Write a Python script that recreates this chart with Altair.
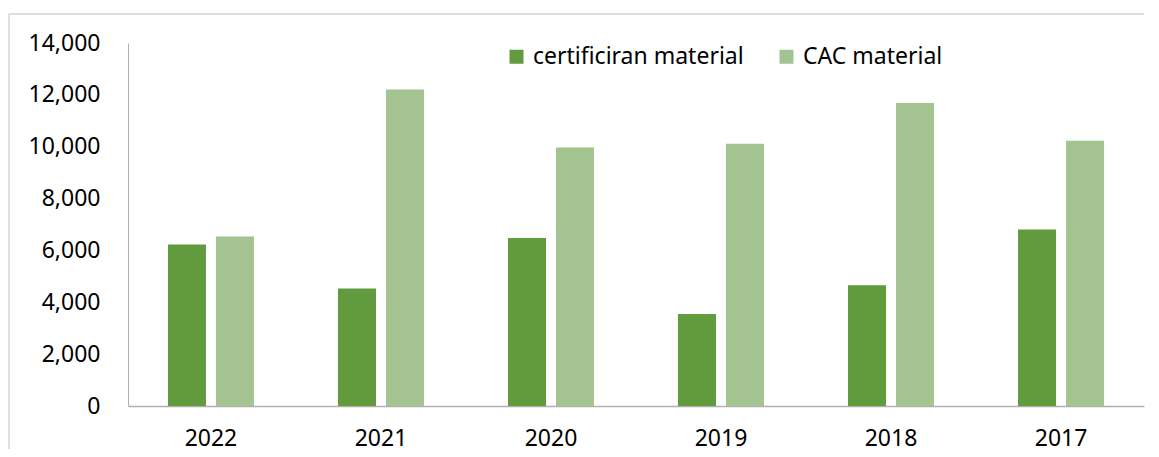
import altair as alt
import pandas as pd

years = ["2022", "2021", "2020", "2019", "2018", "2017"]
cert = [6230, 4530, 6480, 3550, 4660, 6810]
cac = [6540, 12210, 9970, 10110, 11690, 10230]
series = ["certificiran material", "CAC material"]
colors = ["#629A3E", "#A3C491"]
y_ticks = [0, 2000, 4000, 6000, 8000, 10000, 12000, 14000]

rows = []
for i, yr in enumerate(years):
    rows.append({"year": yr, "series": series[0], "value": cert[i]})
    rows.append({"year": yr, "series": series[1], "value": cac[i]})
df = pd.DataFrame(rows)

FONT = "Noto Sans"
AXIS_GRAY = "#B0B0B0"

bars = alt.Chart(df).mark_bar().encode(
    x=alt.X(
        "year:N", sort=years, title=None,
        scale=alt.Scale(paddingInner=0.494, paddingOuter=0.235),
        axis=alt.Axis(labelAngle=0, ticks=False, tickSize=0, labelPadding=21,
                      domainColor=AXIS_GRAY, domainWidth=1.5,
                      labelFont=FONT, labelFontSize=23, labelColor="#000000"),
    ),
    xOffset=alt.XOffset("series:N", sort=series,
                        scale=alt.Scale(paddingInner=0.208, paddingOuter=0)),
    y=alt.Y(
        "value:Q", title=None,
        scale=alt.Scale(domain=[0, 14000], nice=False),
        axis=alt.Axis(values=y_ticks, format=",.0f", grid=False, ticks=False, tickSize=0,
                      labelPadding=28, domainColor=AXIS_GRAY, domainWidth=1,
                      labelFont=FONT, labelFontSize=23, labelColor="#000000"),
    ),
    color=alt.Color(
        "series:N", sort=series,
        scale=alt.Scale(domain=series, range=colors),
        legend=alt.Legend(title=None, orient="none", legendX=377, legendY=2,
                          direction="horizontal", symbolType="square", symbolSize=196,
                          symbolStrokeWidth=0, labelFont=FONT, labelFontSize=23,
                          labelColor="#000000", labelOffset=5, columnPadding=31,
                          labelLimit=400),
    ),
)

frame = alt.Data(values=[{"a": 1}])
border_top = alt.Chart(frame).mark_rule(stroke="#BFBFBF", strokeWidth=1).encode(
    x=alt.value(-119), x2=alt.value(1016), y=alt.value(-29)
)
border_left = alt.Chart(frame).mark_rule(stroke="#BFBFBF", strokeWidth=1).encode(
    x=alt.value(-119), y=alt.value(-29), y2=alt.value(406)
)

chart = alt.layer(border_top, border_left, bars).properties(
    width=1016, height=363,
    padding={"left": 0, "top": 5, "right": 0, "bottom": 4},
    background="white",
).configure_view(strokeWidth=0)

chart.save("out.html", embed_options={"renderer": "svg", "actions": False})
